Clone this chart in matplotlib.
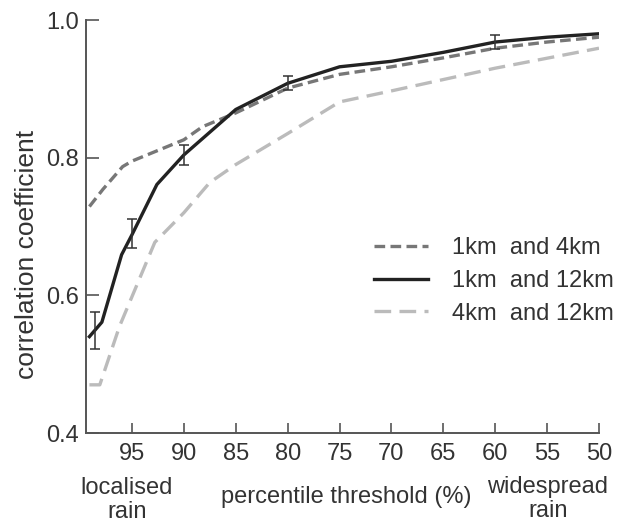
import matplotlib.pyplot as plt

plt.rcParams["font.family"] = ["Liberation Sans", "DejaVu Sans"]

# percentile threshold (x) and correlation coefficient (y) for each pair
x_1_4 = [99.1, 97.8, 95.9, 95, 90, 88.2, 85, 80, 75, 70, 65, 60, 55, 50]
y_1_4 = [0.729, 0.754, 0.787, 0.795, 0.826, 0.845, 0.865, 0.901, 0.921, 0.932, 0.945, 0.959, 0.968, 0.975]

x_1_12 = [99.1, 97.9, 96, 95, 92.6, 90, 85, 80, 75, 70, 65, 60, 55, 50]
y_1_12 = [0.54, 0.561, 0.659, 0.688, 0.761, 0.804, 0.87, 0.908, 0.932, 0.94, 0.953, 0.968, 0.975, 0.98]

x_4_12 = [99.1, 98.1, 96.2, 92.8, 90, 87.5, 85, 80, 75, 70, 60, 50]
y_4_12 = [0.47, 0.47, 0.555, 0.677, 0.72, 0.764, 0.79, 0.835, 0.881, 0.897, 0.93, 0.959]

# error bars on the 1km / 12km curve
err_x = [98.6, 95, 90, 80, 60]
err_y = [0.549, 0.690, 0.804, 0.909, 0.968]
err_size = [0.027, 0.021, 0.014, 0.01, 0.01]

labels = ["1km  and 4km", "1km  and 12km", "4km  and 12km"]
xticks = [95, 90, 85, 80, 75, 70, 65, 60, 55, 50]
yticks = [0.4, 0.6, 0.8, 1.0]

FS = 17

fig = plt.figure(figsize=(6.34, 5.24), dpi=100)
ax = fig.add_axes([86 / 634, 1 - 433 / 524, (599 - 86) / 634, (433 - 20) / 524])

ax.plot(x_1_4, y_1_4, color="#777777", lw=2.4, dashes=(3.2, 1.6), label=labels[0])
ax.plot(x_1_12, y_1_12, color="#222222", lw=2.4, label=labels[1])
ax.plot(x_4_12, y_4_12, color="#bbbbbb", lw=2.4, dashes=(5, 2.5), label=labels[2])
ax.errorbar(err_x, err_y, yerr=err_size, fmt="none", ecolor="#333333",
            elinewidth=1.1, capsize=3.5, capthick=1.1)

ax.set_xlim(99.43, 50)
ax.set_ylim(0.4, 1.0)
ax.set_xticks(xticks)
ax.set_yticks(yticks)
ax.set_yticklabels([f"{v:.1f}" for v in yticks])

for side in ("top", "right"):
    ax.spines[side].set_visible(False)
for side in ("left", "bottom"):
    ax.spines[side].set_color("#555555")
    ax.spines[side].set_linewidth(1.4)
ax.tick_params(axis="both", direction="in", colors="#555555", labelcolor="#333333",
               labelsize=FS, width=1.2)
ax.tick_params(axis="y", length=9, pad=5)
ax.tick_params(axis="x", length=7, pad=7)

ax.set_ylabel("correlation coefficient", fontsize=19, color="#333333")
ax.yaxis.set_label_coords(-0.092, 0.433)

leg = ax.legend(loc="upper left", bbox_to_anchor=(0.52, 0.525), frameon=False,
                fontsize=FS, handlelength=2.3, handletextpad=1.0, labelspacing=0.45,
                labelcolor="#333333")

fig.text(127 / 634, 1 - 500 / 524, "localised\nrain", ha="center", va="center",
         fontsize=FS, color="#333333", linespacing=1.15)
fig.text(548 / 634, 1 - 499 / 524, "widespread\nrain", ha="center", va="center",
         fontsize=FS, color="#333333", linespacing=1.15)
fig.text(346 / 634, 1 - 497 / 524, "percentile threshold (%)", ha="center", va="center",
         fontsize=FS, color="#333333")

fig.savefig("out.png", dpi=100)
